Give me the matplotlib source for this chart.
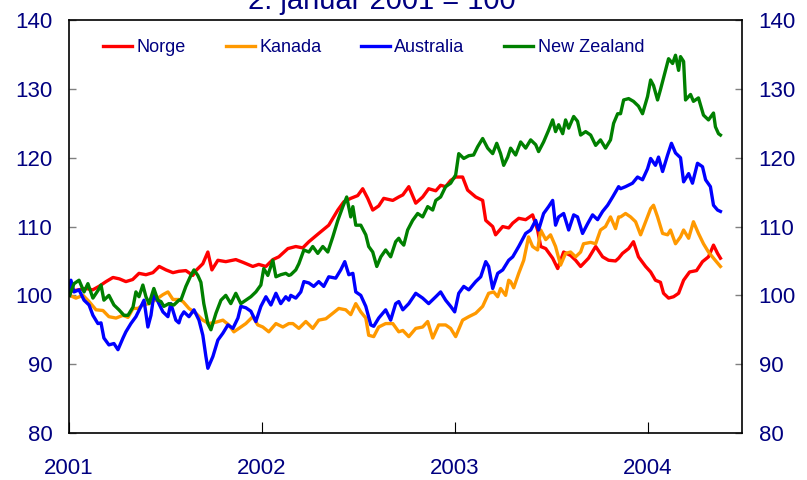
import matplotlib
matplotlib.use("Agg")
import matplotlib.pyplot as plt

plt.rcParams['font.family'] = ['Liberation Sans', 'DejaVu Sans']

navy = '#000080'

# Norge
no_t = [2001.003, 2001.010, 2001.088, 2001.123, 2001.155, 2001.192, 2001.228, 2001.261, 2001.295,
        2001.330, 2001.363, 2001.399, 2001.435, 2001.468, 2001.503, 2001.539, 2001.570, 2001.606,
        2001.642, 2001.658, 2001.694, 2001.720, 2001.741, 2001.772, 2001.813, 2001.865, 2001.902,
        2001.953, 2001.984, 2002.021, 2002.057, 2002.088, 2002.135, 2002.176, 2002.212, 2002.244,
        2002.295, 2002.347, 2002.394, 2002.425, 2002.461, 2002.497, 2002.523, 2002.549, 2002.575,
        2002.606, 2002.632, 2002.679, 2002.710, 2002.731, 2002.762, 2002.798, 2002.834, 2002.865,
        2002.902, 2002.927, 2002.953, 2002.979, 2003.005, 2003.041, 2003.067, 2003.109, 2003.145,
        2003.161, 2003.197, 2003.212, 2003.249, 2003.280, 2003.301, 2003.332, 2003.368, 2003.404,
        2003.430, 2003.446, 2003.472, 2003.508, 2003.534, 2003.565, 2003.601, 2003.627, 2003.653,
        2003.694, 2003.731, 2003.767, 2003.798, 2003.834, 2003.850, 2003.870, 2003.902, 2003.927,
        2003.953, 2003.990, 2004.016, 2004.041, 2004.067, 2004.083, 2004.109, 2004.135, 2004.161,
        2004.187, 2004.218, 2004.254, 2004.285, 2004.316, 2004.342, 2004.363, 2004.378]
no_v = [100.0, 100.6, 101.0, 100.8, 101.3, 102.0, 102.6, 102.4, 102.0,
        102.3, 103.2, 103.0, 103.3, 104.2, 103.7, 103.3, 103.5, 103.6,
        102.9, 103.6, 104.6, 106.3, 103.7, 105.1, 104.9, 105.2, 104.8,
        104.2, 104.5, 104.2, 105.2, 105.6, 106.8, 107.1, 106.9, 107.8,
        109.0, 110.2, 112.4, 113.6, 114.1, 114.5, 115.5, 114.1, 112.4,
        113.0, 114.1, 113.8, 114.3, 114.6, 115.8, 113.4, 114.3, 115.5,
        115.2, 116.0, 115.8, 116.7, 117.2, 117.2, 115.3, 114.3, 113.8,
        110.9, 110.0, 108.8, 110.0, 109.8, 110.5, 111.2, 111.0, 111.7,
        109.5, 107.1, 106.8, 105.4, 103.9, 106.3, 105.8, 105.1, 104.2,
        105.4, 107.1, 105.6, 105.1, 105.0, 105.4, 106.1, 106.8, 107.8,
        105.6, 104.2, 103.4, 102.2, 101.9, 100.3, 99.6, 99.8, 100.3,
        102.2, 103.4, 103.6, 104.9, 105.6, 107.3, 106.1, 105.4]

# Kanada
ca_t = [2001.003, 2001.036, 2001.073, 2001.104, 2001.140, 2001.176, 2001.207, 2001.244, 2001.280,
        2001.306, 2001.332, 2001.358, 2001.383, 2001.415, 2001.451, 2001.487, 2001.513, 2001.539,
        2001.570, 2001.591, 2001.622, 2001.658, 2001.694, 2001.725, 2001.762, 2001.798, 2001.829,
        2001.855, 2001.881, 2001.917, 2001.953, 2001.979, 2002.005, 2002.036, 2002.073, 2002.109,
        2002.140, 2002.161, 2002.192, 2002.228, 2002.264, 2002.295, 2002.332, 2002.368, 2002.399,
        2002.435, 2002.461, 2002.487, 2002.513, 2002.539, 2002.554, 2002.580, 2002.606, 2002.642,
        2002.679, 2002.710, 2002.731, 2002.762, 2002.798, 2002.834, 2002.860, 2002.886, 2002.917,
        2002.953, 2002.979, 2003.005, 2003.041, 2003.073, 2003.109, 2003.145, 2003.176, 2003.202,
        2003.223, 2003.238, 2003.264, 2003.280, 2003.290, 2003.306, 2003.332, 2003.358, 2003.383,
        2003.404, 2003.430, 2003.446, 2003.472, 2003.497, 2003.523, 2003.549, 2003.575, 2003.601,
        2003.627, 2003.653, 2003.668, 2003.705, 2003.731, 2003.756, 2003.782, 2003.808, 2003.834,
        2003.850, 2003.860, 2003.886, 2003.912, 2003.938, 2003.964, 2003.990, 2004.016, 2004.031,
        2004.052, 2004.078, 2004.104, 2004.119, 2004.145, 2004.171, 2004.187, 2004.213, 2004.238,
        2004.264, 2004.290, 2004.316, 2004.342, 2004.378]
ca_v = [100.0, 99.6, 100.0, 99.1, 97.9, 97.8, 96.9, 96.7, 97.1,
        96.8, 98.1, 98.1, 98.6, 98.8, 99.4, 100.1, 100.5, 99.4,
        99.4, 99.1, 98.1, 97.4, 96.4, 95.9, 96.1, 96.4, 95.7,
        94.7, 95.2, 95.9, 96.9, 95.7, 95.4, 94.7, 95.9, 95.4,
        95.9, 95.9, 95.2, 96.2, 95.2, 96.4, 96.6, 97.4, 98.1,
        97.9, 97.2, 98.8, 97.6, 96.7, 94.2, 94.0, 95.4, 95.9,
        95.9, 94.7, 94.9, 94.0, 95.2, 95.4, 96.2, 93.8, 95.7,
        95.7, 95.2, 94.0, 96.4, 96.9, 97.4, 98.4, 100.3, 100.5,
        99.8, 101.0, 100.0, 102.2, 102.0, 101.1, 103.2, 105.1, 108.5,
        107.1, 106.6, 109.5, 108.1, 108.8, 107.1, 104.4, 106.1, 106.3,
        105.6, 106.3, 107.5, 107.7, 107.5, 109.5, 110.0, 111.4, 109.7,
        111.4, 111.4, 111.9, 111.4, 110.7, 108.8, 110.7, 112.6, 113.1,
        111.4, 109.0, 108.8, 109.5, 107.5, 108.5, 109.5, 108.3, 110.7,
        109.0, 107.5, 106.3, 105.4, 104.2]

# Australia
au_t = [2001.003, 2001.010, 2001.026, 2001.052, 2001.078, 2001.104, 2001.124, 2001.150, 2001.166,
        2001.181, 2001.207, 2001.233, 2001.254, 2001.280, 2001.295, 2001.321, 2001.347, 2001.373,
        2001.389, 2001.409, 2001.425, 2001.440, 2001.461, 2001.487, 2001.513, 2001.528, 2001.554,
        2001.570, 2001.580, 2001.596, 2001.622, 2001.648, 2001.674, 2001.694, 2001.710, 2001.720,
        2001.746, 2001.772, 2001.798, 2001.824, 2001.850, 2001.876, 2001.891, 2001.917, 2001.943,
        2001.969, 2001.995, 2002.021, 2002.047, 2002.073, 2002.098, 2002.124, 2002.140, 2002.150,
        2002.176, 2002.202, 2002.218, 2002.244, 2002.269, 2002.295, 2002.321, 2002.347, 2002.383,
        2002.409, 2002.430, 2002.451, 2002.472, 2002.487, 2002.513, 2002.539, 2002.565, 2002.580,
        2002.606, 2002.642, 2002.668, 2002.694, 2002.710, 2002.731, 2002.762, 2002.798, 2002.834,
        2002.865, 2002.902, 2002.927, 2002.953, 2002.979, 2003.000, 2003.021, 2003.047, 2003.073,
        2003.109, 2003.135, 2003.161, 2003.176, 2003.197, 2003.223, 2003.249, 2003.280, 2003.301,
        2003.332, 2003.368, 2003.394, 2003.420, 2003.435, 2003.461, 2003.487, 2003.508, 2003.523,
        2003.539, 2003.565, 2003.591, 2003.617, 2003.637, 2003.663, 2003.689, 2003.715, 2003.741,
        2003.767, 2003.793, 2003.819, 2003.850, 2003.860, 2003.886, 2003.922, 2003.948, 2003.974,
        2004.000, 2004.016, 2004.041, 2004.057, 2004.078, 2004.104, 2004.124, 2004.145, 2004.171,
        2004.187, 2004.213, 2004.233, 2004.259, 2004.285, 2004.301, 2004.326, 2004.342, 2004.363,
        2004.378]
au_v = [100.0, 102.2, 100.5, 100.8, 99.3, 98.6, 97.1, 95.9, 96.0,
        93.8, 92.8, 93.0, 92.1, 93.8, 94.7, 95.9, 96.9, 98.4,
        99.3, 95.4, 97.1, 100.1, 99.1, 97.6, 96.9, 98.8, 96.4,
        96.0, 96.9, 97.6, 96.9, 97.9, 96.4, 94.2, 91.1, 89.4,
        91.1, 93.5, 94.5, 95.7, 95.2, 96.7, 98.4, 98.2, 97.7,
        96.2, 98.4, 99.8, 98.6, 100.3, 98.8, 99.8, 99.3, 100.0,
        99.6, 100.5, 102.0, 101.8, 101.3, 102.0, 101.3, 102.7, 102.5,
        103.7, 104.9, 103.0, 103.2, 100.5, 100.0, 98.4, 95.7, 95.5,
        96.7, 97.9, 96.4, 98.8, 99.1, 97.9, 98.8, 100.3, 99.6,
        98.8, 99.8, 100.5, 99.3, 98.4, 97.6, 100.3, 101.3, 100.8,
        102.0, 102.7, 104.9, 104.2, 101.0, 103.2, 103.7, 105.1, 105.6,
        107.1, 109.0, 109.5, 110.9, 109.5, 111.9, 112.9, 113.8, 110.2,
        111.4, 111.9, 109.5, 111.7, 111.4, 109.0, 110.4, 111.7, 111.0,
        112.2, 113.1, 114.3, 115.8, 115.5, 115.8, 116.3, 117.2, 116.8,
        118.4, 119.9, 118.9, 120.1, 118.0, 120.4, 122.1, 120.7, 120.0,
        116.5, 117.7, 116.3, 119.2, 118.7, 116.8, 115.8, 113.1, 112.4,
        112.2]

# New Zealand
nz_t = [2001.003, 2001.026, 2001.052, 2001.078, 2001.098, 2001.124, 2001.150, 2001.166, 2001.181,
        2001.207, 2001.233, 2001.259, 2001.285, 2001.306, 2001.332, 2001.347, 2001.363, 2001.383,
        2001.399, 2001.415, 2001.440, 2001.461, 2001.477, 2001.492, 2001.518, 2001.544, 2001.570,
        2001.580, 2001.606, 2001.632, 2001.648, 2001.668, 2001.684, 2001.699, 2001.720, 2001.736,
        2001.762, 2001.788, 2001.813, 2001.839, 2001.865, 2001.891, 2001.917, 2001.943, 2001.969,
        2001.995, 2002.010, 2002.031, 2002.057, 2002.073, 2002.098, 2002.124, 2002.140, 2002.150,
        2002.176, 2002.192, 2002.218, 2002.244, 2002.264, 2002.290, 2002.316, 2002.342, 2002.368,
        2002.394, 2002.420, 2002.440, 2002.461, 2002.472, 2002.487, 2002.513, 2002.539, 2002.554,
        2002.575, 2002.596, 2002.617, 2002.642, 2002.668, 2002.694, 2002.710, 2002.720, 2002.736,
        2002.756, 2002.782, 2002.808, 2002.834, 2002.860, 2002.886, 2002.902, 2002.927, 2002.953,
        2002.979, 2003.005, 2003.021, 2003.047, 2003.073, 2003.098, 2003.119, 2003.145, 2003.171,
        2003.197, 2003.218, 2003.238, 2003.254, 2003.275, 2003.290, 2003.316, 2003.342, 2003.368,
        2003.394, 2003.420, 2003.435, 2003.461, 2003.487, 2003.508, 2003.523, 2003.539, 2003.560,
        2003.575, 2003.591, 2003.617, 2003.637, 2003.653, 2003.679, 2003.705, 2003.731, 2003.756,
        2003.782, 2003.808, 2003.824, 2003.845, 2003.860, 2003.876, 2003.902, 2003.927, 2003.953,
        2003.974, 2004.000, 2004.016, 2004.031, 2004.052, 2004.067, 2004.093, 2004.109, 2004.130,
        2004.145, 2004.161, 2004.171, 2004.187, 2004.197, 2004.223, 2004.238, 2004.264, 2004.290,
        2004.316, 2004.342, 2004.352, 2004.368, 2004.378]
nz_v = [100.0, 101.7, 102.2, 100.5, 101.7, 99.6, 100.7, 101.5, 99.3,
        100.0, 98.6, 97.9, 97.1, 97.1, 98.3, 100.5, 99.8, 101.5,
        99.8, 98.8, 101.0, 99.3, 99.1, 98.4, 98.8, 98.6, 99.3,
        99.3, 101.3, 102.9, 103.7, 102.9, 101.9, 98.8, 95.9, 95.0,
        97.4, 99.3, 100.0, 98.8, 100.3, 98.8, 99.3, 99.8, 100.5,
        101.5, 103.9, 102.9, 105.1, 102.7, 103.0, 103.2, 102.9, 103.0,
        103.7, 104.6, 106.6, 106.3, 107.1, 106.1, 107.1, 106.3, 108.5,
        110.9, 112.9, 114.3, 111.4, 112.9, 110.2, 110.2, 108.8, 107.1,
        106.3, 104.2, 105.6, 106.6, 105.6, 107.8, 108.3, 107.8, 107.3,
        109.5, 110.9, 111.9, 111.4, 112.9, 112.4, 113.8, 114.3, 115.8,
        116.3, 117.5, 120.6, 119.9, 120.3, 120.4, 121.6, 122.8, 121.4,
        120.6, 122.1, 120.6, 118.9, 120.1, 121.4, 120.4, 122.3, 121.4,
        122.6, 121.9, 120.9, 122.3, 124.0, 125.5, 123.8, 124.8, 123.5,
        125.5, 124.3, 126.0, 125.3, 123.3, 123.8, 123.3, 121.8, 122.6,
        121.4, 122.6, 125.0, 126.4, 126.4, 128.4, 128.6, 128.2, 127.5,
        126.4, 128.9, 131.3, 130.5, 128.4, 129.9, 132.7, 134.4, 133.7,
        134.9, 132.7, 134.7, 134.0, 128.4, 129.2, 128.2, 128.7, 126.2,
        125.5, 126.5, 124.5, 123.5, 123.3]

series = [("Norge", no_t, no_v, "#FF0000"),
          ("Kanada", ca_t, ca_v, "#FF9900"),
          ("Australia", au_t, au_v, "#0000FF"),
          ("New Zealand", nz_t, nz_v, "#008000")]

fig = plt.figure(figsize=(8.07, 4.8), dpi=100)
ax = fig.add_axes([0.0855, 0.098, 0.834, 0.860])

for name, t, v, col in series:
    ax.plot(t, v, color=col, lw=2.4, label=name)

ax.set_xlim(2001.0, 2004.49)
ax.set_ylim(80, 140)
ax.set_xticks([2001, 2002, 2003, 2004])
ax.set_xticklabels(["2001", "2002", "2003", "2004"])
ax.set_yticks(range(80, 141, 10))
ax.tick_params(axis='y', direction='in', length=5, width=1, color='#808080',
               left=True, right=True, labelleft=True, labelright=True,
               labelsize=16, labelcolor=navy, pad=12)
ax.tick_params(axis='x', direction='in', length=8, width=0.8, color='black',
               labelsize=16, labelcolor=navy, pad=18)
for s in ax.spines.values():
    s.set_linewidth(1.2)
    s.set_color('black')

leg = ax.legend(loc='upper left', bbox_to_anchor=(0.023, 1.0), ncol=4, frameon=False,
                fontsize=13, handlelength=1.6, handletextpad=0.25, columnspacing=2.2,
                borderaxespad=0.65)
for txt in leg.get_texts():
    txt.set_color(navy)

# title sits partly above the figure edge, as in the source chart
fig.text(0.473, 0.981, "2. januar 2001 = 100", ha='center', va='baseline',
         fontsize=21, color=navy)

fig.savefig("out.png", dpi=100)
